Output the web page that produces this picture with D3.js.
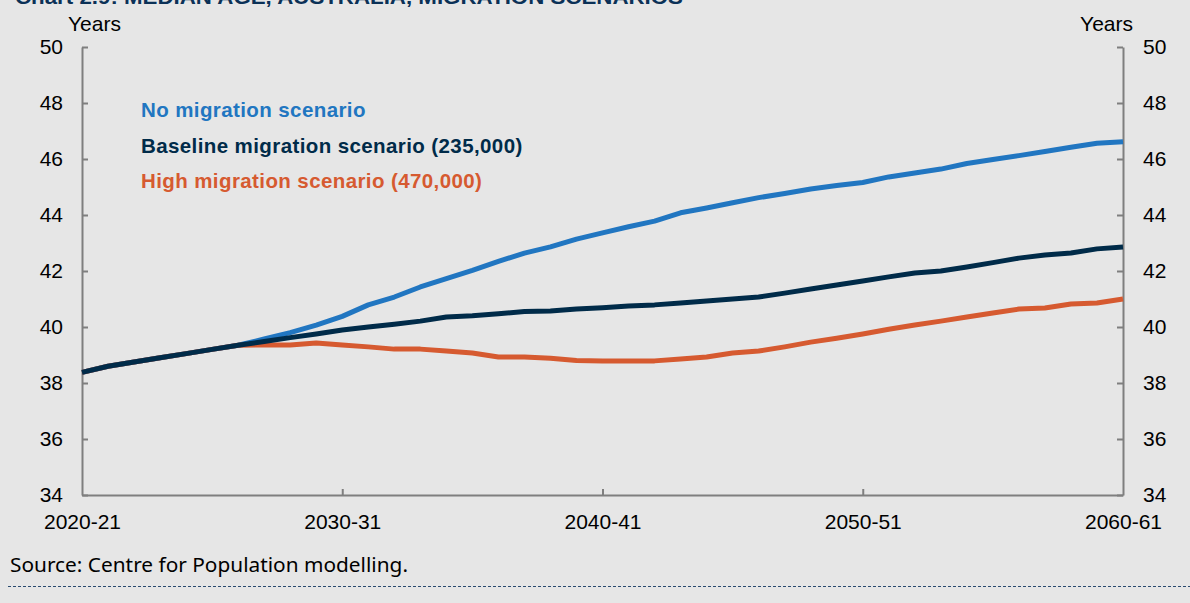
<!DOCTYPE html>
<html>
<head>
<meta charset="utf-8">
<script src="https://cdn.jsdelivr.net/npm/d3@7"></script>
<style>
  body { margin: 0; background: #e6e6e6; }
  svg { display: block; }
</style>
</head>
<body>
<svg></svg>
<script>
var width = 1190;
var height = 603;

// financial years 2020-21 .. 2060-61
var years = [];
for (var yr = 2020; yr <= 2060; yr++) years.push(yr + "-" + String(yr + 1).slice(2));

var tickYears = ["2020-21", "2030-31", "2040-41", "2050-51", "2060-61"];
var yTicks = [34, 36, 38, 40, 42, 44, 46, 48, 50];

var noMigration = [38.38, 38.6, 38.75, 38.9, 39.05, 39.2, 39.35,
  39.57, 39.8, 40.07, 40.38, 40.79, 41.07, 41.43, 41.73, 42.02, 42.34,
  42.64, 42.86, 43.14, 43.36, 43.58, 43.78, 44.08, 44.25, 44.44, 44.62,
  44.77, 44.93, 45.05, 45.16, 45.36, 45.5, 45.64, 45.84, 45.98, 46.12,
  46.27, 46.42, 46.56, 46.62];

var baseline = [38.38, 38.6, 38.75, 38.9, 39.05, 39.2, 39.35,
  39.48, 39.62, 39.75, 39.89, 40.0, 40.1, 40.21, 40.36, 40.4, 40.47,
  40.55, 40.57, 40.64, 40.69, 40.75, 40.79, 40.86, 40.93, 41.0, 41.07,
  41.21, 41.36, 41.5, 41.64, 41.79, 41.93, 42.0, 42.14, 42.3, 42.46,
  42.57, 42.64, 42.79, 42.86];

var highMigration = [38.38, 38.6, 38.75, 38.9, 39.05, 39.2, 39.35,
  39.36, 39.36, 39.43, 39.36, 39.29, 39.21, 39.21, 39.14, 39.07, 38.93,
  38.93, 38.88, 38.8, 38.79, 38.79, 38.79, 38.86, 38.93, 39.07, 39.14,
  39.29, 39.46, 39.6, 39.75, 39.92, 40.07, 40.21, 40.36, 40.5, 40.64,
  40.68, 40.82, 40.86, 41.0];

var series = [
  { name: "No migration scenario", values: noMigration, color: "#2176c1" },
  { name: "High migration scenario (470,000)", values: highMigration, color: "#d65a30" },
  { name: "Baseline migration scenario (235,000)", values: baseline, color: "#002b49" }
];

var legendOrder = [series[0], series[2], series[1]];

var plotLeft = 82, plotRight = 1123, plotTop = 47, plotBottom = 495;

var svg = d3.select("svg")
              .attr("width", width)
              .attr("height", height);

svg.append("rect")
   .attr("width", width)
   .attr("height", height)
   .attr("fill", "#e6e6e6");

var x = d3.scalePoint().domain(years).range([plotLeft, plotRight]);
var yScale = d3.scaleLinear().domain([34, 50]).range([plotBottom, plotTop]);

// title, mostly cut off at the top
svg.append("text")
   .attr("x", 15).attr("y", 4)
   .attr("textLength", 668).attr("lengthAdjust", "spacingAndGlyphs")
   .attr("font-family", "Liberation Sans, Arial, sans-serif")
   .attr("font-weight", "bold")
   .attr("font-size", 20)
   .attr("fill", "#0b3157")
   .text("Chart 2.9: MEDIAN AGE, AUSTRALIA, MIGRATION SCENARIOS");

function styleAxis(g) {
  g.selectAll("path, line").attr("stroke", "#7f7f7f").attr("stroke-width", 2);
  g.selectAll("text")
   .attr("font-family", "Liberation Sans, Arial, sans-serif")
   .attr("font-size", 21)
   .attr("fill", "#000");
}

svg.append("g")
   .attr("transform", "translate(" + plotLeft + ",0)")
   .call(d3.axisLeft(yScale).tickValues(yTicks).tickSizeInner(-6).tickSizeOuter(0).tickPadding(19))
   .call(styleAxis);

svg.append("g")
   .attr("transform", "translate(" + plotRight + ",0)")
   .call(d3.axisRight(yScale).tickValues(yTicks).tickSizeInner(-6).tickSizeOuter(0).tickPadding(20))
   .call(styleAxis);

var xAxis = svg.append("g")
   .attr("transform", "translate(0," + plotBottom + ")")
   .call(d3.axisBottom(x).tickValues(tickYears).tickSizeInner(-6).tickSizeOuter(0).tickPadding(19))
   .call(styleAxis);
xAxis.selectAll(".tick line").filter(d => d === "2020-21" || d === "2060-61").remove();

// axis titles
svg.append("text")
   .attr("x", 68).attr("y", 31)
   .attr("font-family", "Liberation Sans, Arial, sans-serif")
   .attr("font-size", 21)
   .text("Years");
svg.append("text")
   .attr("x", 1133).attr("y", 31)
   .attr("text-anchor", "end")
   .attr("font-family", "Liberation Sans, Arial, sans-serif")
   .attr("font-size", 21)
   .text("Years");

var line = d3.line()
  .x((d, i) => x(years[i]))
  .y(d => yScale(d));

svg.selectAll("path.series")
   .data(series)
   .enter()
   .append("path")
     .attr("class", "series")
     .attr("d", d => line(d.values))
     .attr("fill", "none")
     .attr("stroke", d => d.color)
     .attr("stroke-width", 5)
     .attr("stroke-linejoin", "round");

// legend
svg.selectAll("text.legend")
   .data(legendOrder)
   .enter()
   .append("text")
     .attr("class", "legend")
     .attr("x", 141)
     .attr("y", (d, i) => 117 + i * 35.5)
     .attr("font-family", "Liberation Sans, Arial, sans-serif")
     .attr("font-weight", "bold")
     .attr("font-size", 20.5)
     .attr("letter-spacing", 0.4)
     .attr("fill", d => d.color)
     .text(d => d.name);

// source + dashed rule
svg.append("text")
   .attr("x", 10).attr("y", 572)
   .attr("textLength", 398).attr("lengthAdjust", "spacingAndGlyphs")
   .attr("font-family", "Noto Sans, sans-serif")
   .attr("font-size", 19)
   .attr("fill", "#000")
   .text("Source: Centre for Population modelling.");

svg.append("line")
   .attr("x1", 8).attr("x2", width)
   .attr("y1", 586.5).attr("y2", 586.5)
   .attr("stroke", "#2a4b70")
   .attr("stroke-width", 1)
   .attr("stroke-dasharray", "3,2");
</script>
</body>
</html>
